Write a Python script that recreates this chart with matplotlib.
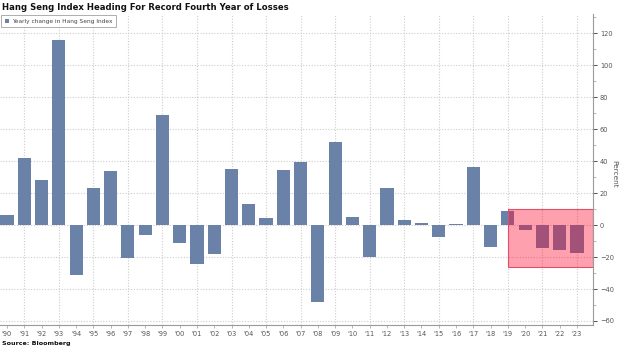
import matplotlib
matplotlib.use("Agg")
import matplotlib.pyplot as plt
from matplotlib.patches import Rectangle
import numpy as np

years = ["'90", "'91", "'92", "'93", "'94", "'95", "'96", "'97", "'98", "'99",
         "'00", "'01", "'02", "'03", "'04", "'05", "'06", "'07", "'08", "'09",
         "'10", "'11", "'12", "'13", "'14", "'15", "'16", "'17", "'18", "'19",
         "'20", "'21", "'22", "'23"]
yearly_change = [6.6, 42.0, 28.3, 115.7, -31.1, 23.0, 33.5, -20.3, -6.3, 68.8,
                 -11.0, -24.5, -18.2, 34.9, 13.2, 4.5, 34.2, 39.3, -48.3, 52.0,
                 5.3, -20.0, 22.9, 2.9, 1.3, -7.2, 0.4, 36.0, -13.6, 9.1,
                 -3.4, -14.1, -15.5, -17.2]
y_ticks = [-60, -40, -20, 0, 20, 40, 60, 80, 100, 120]

BAR = "#6a82a8"
GRID = "#cccccc"
AXIS = "#9a9a9a"
TXT = "#555555"

fig = plt.figure(figsize=(6.2, 3.48), dpi=100)
ax = fig.add_axes([0.0, 0.0661, 593 / 620, 0.8937])

x = np.arange(len(years))
ax.bar(x, yearly_change, width=0.76, color=BAR, zorder=3,
       label="Yearly change in Hang Seng Index")

ax.set_xlim(-0.405, 33.93)
ax.set_ylim(-62.5, 132)

# highlight of the recent losing streak
ax.add_patch(Rectangle((29.0, -26), 33.93 - 29.0, 36, facecolor="#ff052d",
                       alpha=0.38, edgecolor="none", zorder=4))
ax.add_patch(Rectangle((29.0, -26), 33.93 - 29.0, 36, facecolor="none",
                       edgecolor="#e0506a", linewidth=0.8, zorder=5))

# axes styling
for side in ["top", "left"]:
    ax.spines[side].set_visible(False)
for side in ["right", "bottom"]:
    ax.spines[side].set_color(AXIS)
    ax.spines[side].set_linewidth(0.8)

ax.yaxis.tick_right()
ax.set_yticks(y_ticks)
ax.set_yticks(np.arange(-60, 131, 10), minor=True)
ax.tick_params(axis="y", which="major", direction="out", length=3, width=0.6,
               color="#333333", labelsize=4.8, labelcolor=TXT, pad=2)
ax.tick_params(axis="y", which="minor", direction="out", length=1.8, width=0.5,
               color=AXIS)
fig.text(614 / 620, 0.5, "Percent", rotation=270, fontsize=5.3, color=TXT,
         ha="center", va="center")

ax.set_xticks(x)
ax.set_xticklabels(years)
ax.tick_params(axis="x", which="major", direction="out", length=2.5, width=0.5,
               color=AXIS, labelsize=4.8, labelcolor=TXT, pad=2)

# dotted grid: every 20 percent, and every other year
for v in y_ticks:
    ax.axhline(v, color=GRID, linestyle=(0, (1, 1.5)), linewidth=0.8, zorder=1)
for xi in x[1::2]:
    ax.axvline(xi, color=GRID, linestyle=(0, (1, 1.5)), linewidth=0.8, zorder=1)

leg = ax.legend(loc="upper left", bbox_to_anchor=(0.0, 1.0), fontsize=4.2,
                frameon=True, fancybox=False, borderpad=0.6, handlelength=0.8,
                handleheight=0.8, handletextpad=0.4, borderaxespad=0.2)
leg.get_frame().set_edgecolor("#9a9a9a")
leg.get_frame().set_linewidth(0.7)
for t in leg.get_texts():
    t.set_color("#444444")

fig.text(0.004, 0.978, "Hang Seng Index Heading For Record Fourth Year of Losses",
         fontsize=6.1, fontweight="bold", color="#111111", va="center", ha="left")
fig.text(0.004, 0.014, "Source: Bloomberg", fontsize=4.6, fontweight="bold",
         color="#111111", va="center", ha="left")

fig.savefig("out.png", dpi=100)
